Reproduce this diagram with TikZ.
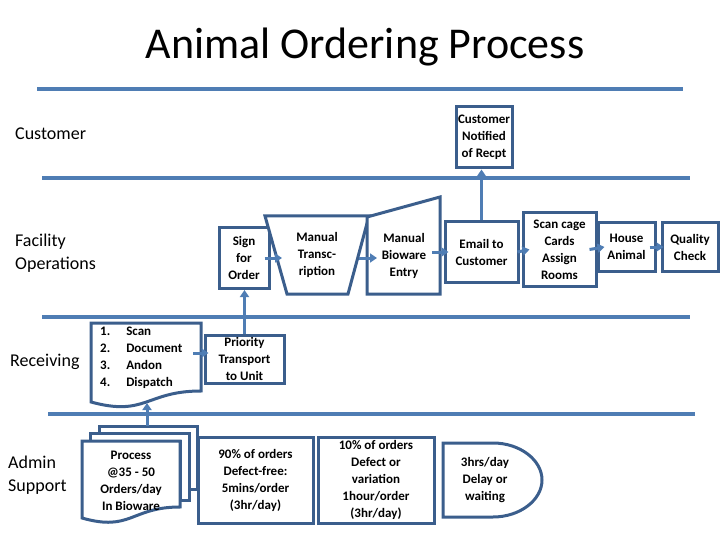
\documentclass[tikz,border=0pt]{standalone}
\usepackage{fontspec}
\setmainfont{Carlito}
\usetikzlibrary{arrows.meta,calc}
\definecolor{lane}{HTML}{4F7DB4}
\definecolor{boxc}{HTML}{3B5E8C}
\newcommand\boxfont{\fontsize{13}{17}\selectfont\bfseries}
\begin{document}
\begin{tikzpicture}[x=1pt,y=-1pt,
  lanel/.style={line width=4.5pt,draw=lane},
  box/.style={draw=boxc,line width=3pt,fill=white,align=center,inner sep=0pt,font=\boxfont},
  shp/.style={draw=boxc,line width=3pt,fill=white,line join=miter},
  txt/.style={align=center,inner sep=0pt,font=\boxfont},
  lab/.style={align=left,anchor=west,inner sep=0pt,font=\fontsize{18}{22.5}\selectfont},
  arr/.style={draw=lane,line width=3pt,-{Triangle[length=7pt,width=9pt]}}
]
\useasboundingbox (0,0) rectangle (720,540);
% title
\node[font=\fontsize{44}{50}\selectfont,anchor=base,inner sep=0pt] (title) at (365,59) {Animal Ordering Process};
% lanes
\draw[lanel] (37,89) -- (683,89);
\draw[lanel] (42,178) -- (690,178);
\draw[lanel] (42,317) -- (690,317);
\draw[lanel] (48,414) -- (695,414);
% lane labels
\node[lab] (lcust) at (15,134) {Customer};
\node[lab] (lfac) at (15,253) {Facility\\Operations};
\node[lab] (lrec) at (10,362) {Receiving};
\node[lab] (ladm) at (8,475) {Admin\\Support};
% customer lane
\node[box,minimum width=56,minimum height=61] (notif) at (484,137.5) {Customer\\Notified\\of Recpt};
% facility lane
\node[box,minimum width=50,minimum height=61] (sign) at (244,258) {Sign\\for\\Order};
\draw[shp] (265,216) -- (369,216) -- (348,294) -- (287,294) -- cycle;
\node[txt] (trans) at (317,255) {Manual\\Transc-\\ription};
\coordinate (transL) at (282,258);
\coordinate (transR) at (359,258);
\draw[shp] (367,217) -- (440,197) -- (440,294) -- (367,294) -- cycle;
\node[txt] (bio) at (404,256) {Manual\\Bioware\\Entry};
\coordinate (bioL) at (377,258);
\coordinate (bioR) at (432,252);
\node[box,minimum width=73,minimum height=60] (email) at (481.5,252) {Email to\\Customer};
\node[box,minimum width=73,minimum height=73] (scan) at (559.5,249.5) {Scan cage\\Cards\\Assign\\Rooms};
\node[box,minimum width=57,minimum height=48] (house) at (626.5,247) {House\\Animal};
\node[box,minimum width=56,minimum height=48] (qual) at (690,247) {Quality\\Check};
% receiving lane
\draw[shp] (91,323) -- (201,323) -- (201,391) .. controls (146,391) and (146,417) .. (91,402) -- cycle;
\node[txt,anchor=west,align=left] (list) at (100,357.5) {\begin{tabular}{@{}l@{\hspace{16pt}}l@{}}1.&Scan\\2.&Document\\3.&Andon\\4.&Dispatch\end{tabular}};
\coordinate (listR) at (193,353);
\coordinate (listB) at (147,403);
\node[box,minimum width=79,minimum height=48] (prio) at (244.5,359) {Priority\\Transport\\to Unit};
% admin lane
\draw[draw=boxc,line width=3pt,line join=miter] (99,433) -- (99,426) -- (197,426) -- (197,489) -- (189,489);
\draw[draw=boxc,line width=3pt,line join=miter,fill=white] (90,441) -- (90,433) -- (189,433) -- (189,500) -- (180,500) -- (180,441) -- cycle;
\draw[shp] (82,441) -- (180,441) -- (180,507) .. controls (131,507) and (131,532) .. (82,518) -- cycle;
\node[txt] (multi) at (131,480.5) {Process\\@35 - 50\\Orders/day\\In Bioware};
\coordinate (multiT) at (147,426);
\node[box,minimum width=115,minimum height=86] (b90) at (255.5,480) {90\% of orders\\Defect-free:\\5mins/order\\(3hr/day)};
\node[box,minimum width=116,minimum height=86] (b10) at (376,480) {10\% of orders\\Defect or\\variation\\1hour/order\\(3hr/day)};
\draw[shp] (443,443) -- (493,443) .. controls (520,443) and (542,460) .. (542,480) .. controls (542,500) and (520,517) .. (493,517) -- (443,517) -- cycle;
\node[txt] (delay) at (485,480) {3hrs/day\\Delay or\\waiting};
% connectors
\draw[arr] ([xshift=-6pt]sign.east) -- (transL);
\draw[arr] (transR) -- (bioL);
\draw[arr] (bioR) -- ([xshift=5pt]email.west);
\draw[arr] ([xshift=-2pt]email.east) -- ([xshift=8pt]scan.west);
\draw[arr] ([xshift=-8pt]scan.east) -- ([xshift=8pt]house.west);
\draw[arr] ([xshift=-7pt]house.east) -- ([xshift=3pt]qual.west);
\draw[arr] (email.north) -- (email.north |- notif.south);
\draw[arr] (prio.north) -- (prio.north |- sign.south);
\draw[arr] (listR) -- ([xshift=5pt]prio.west |- listR);
\draw[arr] (multiT) -- (listB);
\end{tikzpicture}
\end{document}
